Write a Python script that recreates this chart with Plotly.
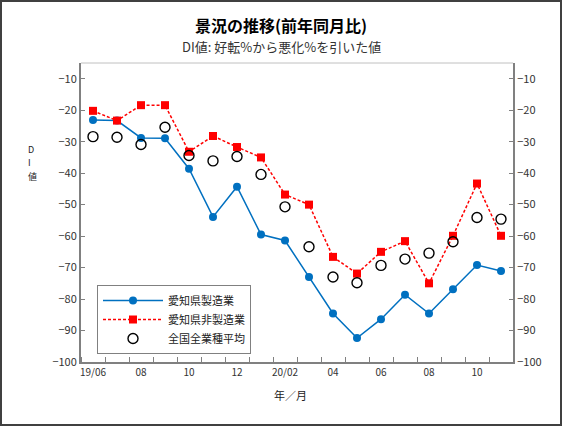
import plotly.graph_objects as go

months = ["19/06", "07", "08", "09", "10", "11", "12", "20/01", "02", "03",
          "04", "05", "06", "07", "08", "09", "10", "11"]
tick_labels = ["19/06", "", "08", "", "10", "", "12", "", "20/02", "",
               "04", "", "06", "", "08", "", "10", ""]
aichi_mfg = [-23.1, -23.3, -28.8, -28.9, -38.6, -53.9, -44.3, -59.5, -61.4, -73.0,
             -84.6, -92.4, -86.4, -78.6, -84.6, -76.9, -69.2, -71.1]
aichi_nonmfg = [-20.2, -23.3, -18.4, -18.4, -33.2, -28.2, -31.7, -35.0, -46.8, -50.0,
                -66.6, -71.9, -65.0, -61.6, -75.0, -59.9, -43.3, -59.9]
national_avg = [-28.4, -28.6, -30.9, -25.4, -34.4, -36.1, -34.7, -40.4, -50.7, -63.4,
                -73.0, -74.8, -69.3, -67.3, -65.4, -61.8, -54.1, -54.6]
y_ticks = [-10, -20, -30, -40, -50, -60, -70, -80, -90, -100]

xi = list(range(len(months)))
font = "Noto Sans CJK JP"

fig = go.Figure()
fig.add_trace(go.Scatter(x=xi, y=aichi_mfg, name="愛知県製造業", mode="lines+markers",
                         line=dict(color="#0070C0", width=1.5),
                         marker=dict(symbol="circle", size=8, color="#0070C0")))
fig.add_trace(go.Scatter(x=xi, y=aichi_nonmfg, name="愛知県非製造業", mode="lines+markers",
                         line=dict(color="#FF0000", width=1.5, dash="3px,2px"),
                         marker=dict(symbol="square", size=8, color="#FF0000")))
fig.add_trace(go.Scatter(x=xi, y=national_avg, name="全国全業種平均", mode="markers",
                         marker=dict(symbol="circle-open", size=10, color="black",
                                     line=dict(width=1.4, color="black"))))
fig.add_trace(go.Scatter(x=xi, y=national_avg, yaxis="y2", showlegend=False,
                         mode="markers", marker=dict(opacity=0), hoverinfo="skip"))

def px_x(p):
    return (p - 81) / 432

def px_y(p):
    return (362 - p) / 299

fig.update_layout(
    width=562, height=426,
    margin=dict(l=81, r=49, t=63, b=64),
    paper_bgcolor="white", plot_bgcolor="white",
    font=dict(family=font, size=11, color="#222"),
    showlegend=True,
    legend=dict(x=px_x(97), y=px_y(285), xanchor="left", yanchor="top",
                bordercolor="#808080", borderwidth=1, bgcolor="white",
                font=dict(size=11, family=font, color="#222"), itemwidth=60,
                tracegroupgap=0),
    xaxis=dict(range=[-0.5, len(months) - 0.5], tickvals=xi, ticktext=tick_labels,
               ticks="", showline=True, linecolor="#808080", linewidth=2,
               showgrid=False, zeroline=False,
               tickfont=dict(size=10, color="#333"),
               minor=dict(tickvals=[i - 0.5 for i in xi] + [len(months) - 0.5],
                          ticks="inside", ticklen=5, tickcolor="#808080", tickwidth=1)),
    yaxis=dict(range=[-100, -5], tickvals=y_ticks, ticks="inside", ticklen=4,
               tickcolor="#808080", showline=True, linecolor="#808080", linewidth=2,
               showgrid=False, zeroline=False, tickfont=dict(size=11, color="#333")),
    yaxis2=dict(range=[-100, -5], tickvals=y_ticks, ticks="inside", ticklen=4,
                tickcolor="#808080", showline=True, linecolor="#808080", linewidth=2,
                showgrid=False, zeroline=False, overlaying="y", side="right",
                tickfont=dict(size=11, color="#333")),
)

# top border of the plot area
fig.add_shape(type="line", xref="paper", yref="paper", x0=0, x1=1, y0=1, y1=1,
              line=dict(color="#C0C0C0", width=1))
# outer frame
fig.add_shape(type="rect", xref="paper", yref="paper",
              x0=px_x(1), x1=px_x(561), y0=px_y(425), y1=px_y(1),
              line=dict(color="#404040", width=2))

fig.add_annotation(text="<b>景況の推移(前年同月比)</b>", xref="paper", yref="paper",
                   x=px_x(281), y=px_y(25), yanchor="middle", showarrow=False,
                   font=dict(size=16, color="black", family=font))
fig.add_annotation(text="DI値: 好転%から悪化%を引いた値", xref="paper", yref="paper",
                   x=px_x(281), y=px_y(46), yanchor="middle", showarrow=False,
                   font=dict(size=13, color="#333", family=font))
for ch, yy in zip(["D", "I", "値"], [149, 162, 176]):
    fig.add_annotation(text=ch, xref="paper", yref="paper",
                       x=px_x(26), y=px_y(yy), yanchor="middle", showarrow=False,
                       font=dict(size=9, color="#222", family=font))
fig.add_annotation(text="年／月", xref="paper", yref="paper",
                   x=px_x(290), y=px_y(395), yanchor="middle", showarrow=False,
                   font=dict(size=11, color="#222", family=font))

fig.write_html("out.html", config={"displayModeBar": False},
               post_script="document.body.style.margin='0';document.body.style.overflow='hidden';")
